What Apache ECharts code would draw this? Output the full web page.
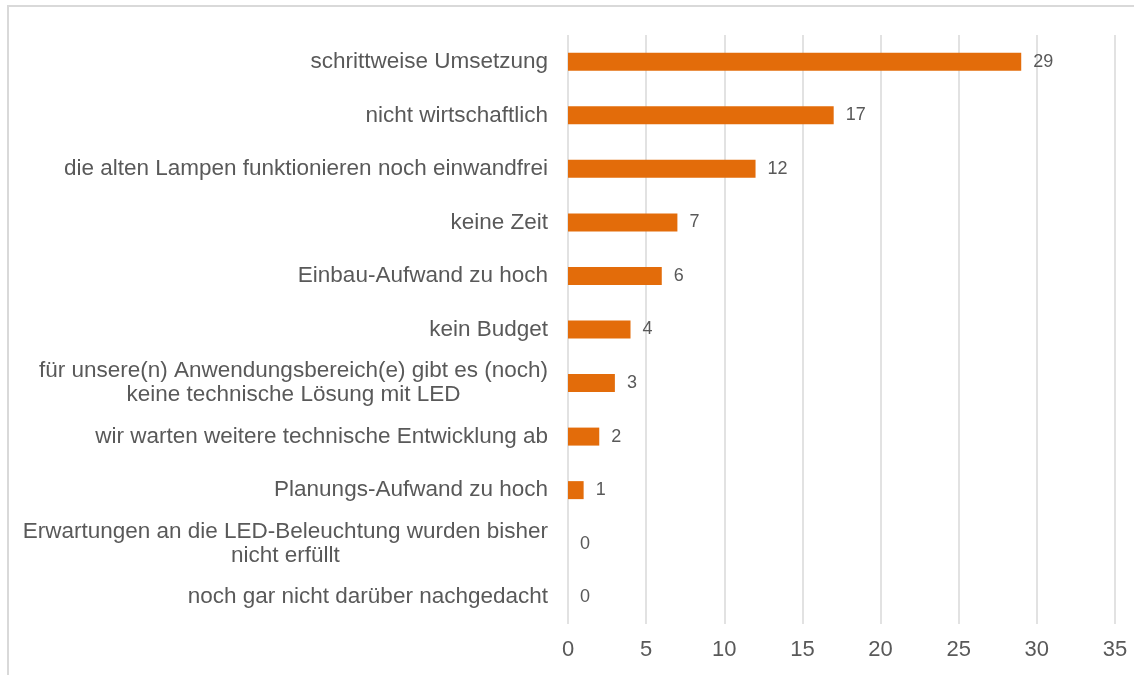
<!DOCTYPE html>
<html>
<head>
<meta charset="utf-8">
<script src="https://cdn.jsdelivr.net/npm/echarts@6/dist/echarts.min.js"></script>
<style>
  html, body { margin: 0; padding: 0; background: #fff; }
  #chart { width: 1134px; height: 675px; }
</style>
</head>
<body>
<div id="chart"></div>
<script>
const categories = [
  'schrittweise Umsetzung',
  'nicht wirtschaftlich',
  'die alten Lampen funktionieren noch einwandfrei',
  'keine Zeit',
  'Einbau-Aufwand zu hoch',
  'kein Budget',
  'für unsere(n) Anwendungsbereich(e) gibt es (noch)\nkeine technische Lösung mit LED',
  'wir warten weitere technische Entwicklung ab',
  'Planungs-Aufwand zu hoch',
  'Erwartungen an die LED-Beleuchtung wurden bisher\nnicht erfüllt',
  'noch gar nicht darüber nachgedacht'
]
const counts = [29, 17, 12, 7, 6, 4, 3, 2, 1, 0, 0]
const xTicks = [0, 5, 10, 15, 20, 25, 30, 35]

const textColor = '#595959'
const gridColor = '#d9d9d9'
const barColor = '#e36c0a'

const chart = echarts.init(document.getElementById('chart'))
chart.setOption({
  animation: false,
  textStyle: { fontFamily: 'Liberation Sans, Arial, sans-serif' },
  // light frame around the chart area (right and bottom edges run off the image)
  graphic: [{
    type: 'rect',
    shape: { x: 8, y: 6, width: 1200, height: 700 },
    style: { fill: 'none', stroke: gridColor, lineWidth: 2 },
    silent: true
  }],
  grid: { left: 568, right: 19, top: 35, bottom: 51 },
  xAxis: {
    type: 'value',
    min: xTicks[0],
    max: xTicks[xTicks.length - 1],
    interval: xTicks[1] - xTicks[0],
    axisLine: { show: false },
    axisTick: { show: false },
    axisLabel: { color: textColor, fontSize: 22, margin: 15 },
    splitLine: { lineStyle: { color: gridColor, width: 1.5 } }
  },
  yAxis: {
    type: 'category',
    inverse: true,
    data: categories,
    axisLine: { show: false },
    axisTick: { show: false },
    axisLabel: {
      margin: 20,
      // centre each line of a wrapped label within its block
      formatter: v => v.split('\n').map(l => '{c|' + l + '}').join('\n'),
      rich: {
        c: { color: textColor, fontSize: 22.5, align: 'center', lineHeight: 24 }
      }
    }
  },
  series: [{
    type: 'bar',
    data: counts,
    barWidth: 18,
    itemStyle: { color: barColor },
    label: {
      show: true,
      position: 'right',
      distance: 12,
      color: textColor,
      fontSize: 18
    }
  }]
})
</script>
</body>
</html>
